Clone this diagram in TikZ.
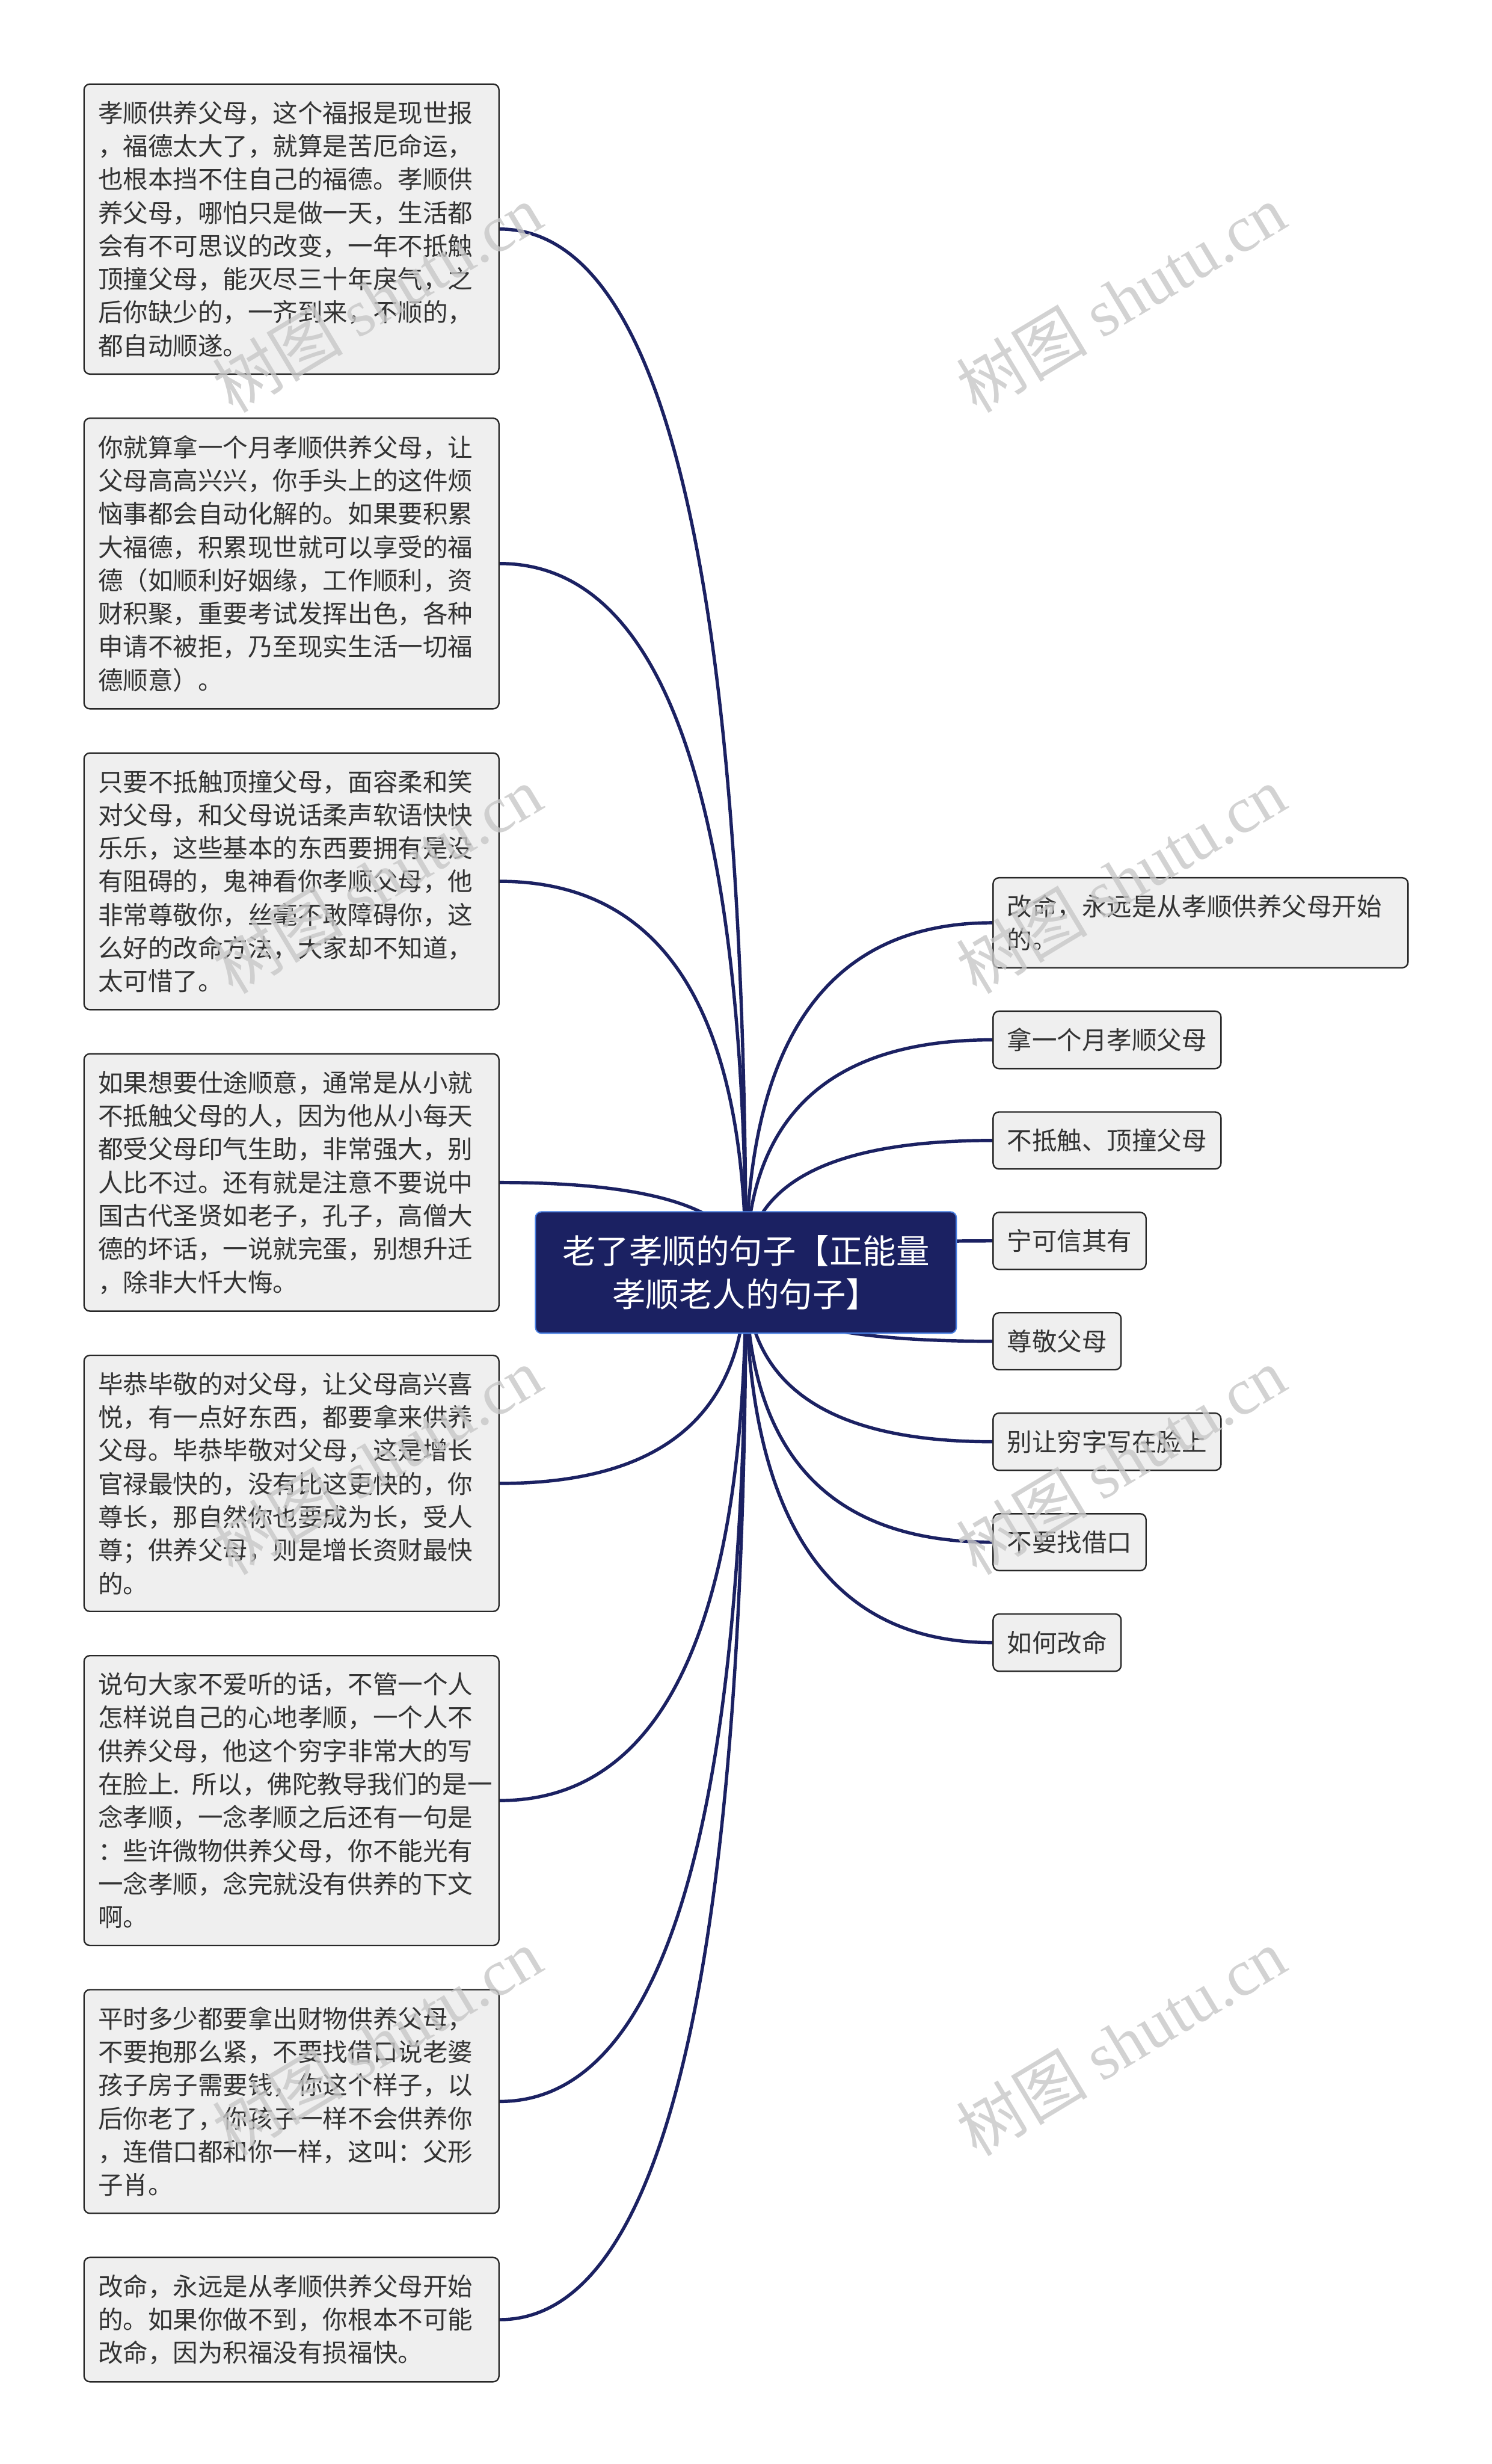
\documentclass[tikz,border=0pt]{standalone}
\usepackage{fontspec}
\setmainfont{Noto Sans CJK SC}
\newfontfamily\wmlatin{Liberation Serif}
\usetikzlibrary{positioning,calc,backgrounds}

\definecolor{navy}{RGB}{27,33,98}
\definecolor{rootedge}{RGB}{70,125,225}
\definecolor{boxfill}{RGB}{239,239,239}
\definecolor{boxedge}{RGB}{40,40,40}
\definecolor{boxtext}{RGB}{51,51,51}

\begin{document}
\begin{tikzpicture}[
  txt/.style={draw=boxedge, line width=0.7pt, fill=boxfill, rounded corners=0.1cm, text=boxtext,
              font=\fontsize{12.2pt}{16.24pt}\selectfont, inner xsep=0.24cm, inner ysep=0.29cm, align=left},
  para/.style={txt, text width=6.64cm},
  rootbox/.style={draw=rootedge, line width=0.6pt, fill=navy, rounded corners=0.1cm, text=white,
              font=\fontsize{16.3pt}{21.3pt}\selectfont, inner xsep=0.46cm, inner ysep=0.4cm, align=center},
  link/.style={draw=navy, line width=1.6pt},
  wmark/.style={text=black!22, text opacity=0.8, rotate=31, font=\fontsize{32pt}{32pt}\selectfont}]
  \useasboundingbox (0,0) rectangle (25.6,-42.27);

  % centre
  \node[rootbox] (root) at (12.80,-21.83) {老了孝顺的句子【正能量\\孝顺老人的句子】};

  % left column
  \node[para, anchor=north west] (l1) at (1.43,-1.43) {孝顺供养父母，这个福报是现世报\\，福德太大了，就算是苦厄命运，\\也根本挡不住自己的福德。孝顺供\\养父母，哪怕只是做一天，生活都\\会有不可思议的改变，一年不抵触\\顶撞父母，能灭尽三十年戾气，之\\后你缺少的，一齐到来，不顺的，\\都自动顺遂。};
  \node[para, below=0.733cm of l1] (l2) {你就算拿一个月孝顺供养父母，让\\父母高高兴兴，你手头上的这件烦\\恼事都会自动化解的。如果要积累\\大福德，积累现世就可以享受的福\\德（如顺利好姻缘，工作顺利，资\\财积聚，重要考试发挥出色，各种\\申请不被拒，乃至现实生活一切福\\德顺意）。};
  \node[para, below=0.733cm of l2] (l3) {只要不抵触顶撞父母，面容柔和笑\\对父母，和父母说话柔声软语快快\\乐乐，这些基本的东西要拥有是没\\有阻碍的，鬼神看你孝顺父母，他\\非常尊敬你，丝毫不敢障碍你，这\\么好的改命方法，大家却不知道，\\太可惜了。};
  \node[para, below=0.733cm of l3] (l4) {如果想要仕途顺意，通常是从小就\\不抵触父母的人，因为他从小每天\\都受父母印气生助，非常强大，别\\人比不过。还有就是注意不要说中\\国古代圣贤如老子，孔子，高僧大\\德的坏话，一说就完蛋，别想升迁\\，除非大忏大悔。};
  \node[para, below=0.733cm of l4] (l5) {毕恭毕敬的对父母，让父母高兴喜\\悦，有一点好东西，都要拿来供养\\父母。毕恭毕敬对父母，这是增长\\官禄最快的，没有比这更快的，你\\尊长，那自然你也要成为长，受人\\尊；供养父母，则是增长资财最快\\的。};
  \node[para, below=0.733cm of l5] (l6) {说句大家不爱听的话，不管一个人\\怎样说自己的心地孝顺，一个人不\\供养父母，他这个穷字非常大的写\\\mbox{在脸上. 所以，佛陀教导我们的是一}\\念孝顺，一念孝顺之后还有一句是\\：些许微物供养父母，你不能光有\\一念孝顺，念完就没有供养的下文\\啊。};
  \node[para, below=0.733cm of l6] (l7) {平时多少都要拿出财物供养父母，\\不要抱那么紧，不要找借口说老婆\\孩子房子需要钱，你这个样子，以\\后你老了，你孩子一样不会供养你\\，连借口都和你一样，这叫：父形\\子肖。};
  \node[para, below=0.733cm of l7] (l8) {改命，永远是从孝顺供养父母开始\\的。如果你做不到，你根本不可能\\改命，因为积福没有损福快。};

  % right column
  \node[para, anchor=west] (r1) at (17.03,-15.83) {改命，永远是从孝顺供养父母开始\\的。};
  \node[txt, below=0.72cm of r1.south west, anchor=north west] (r2) {拿一个月孝顺父母};
  \node[txt, below=0.72cm of r2.south west, anchor=north west] (r3) {不抵触、顶撞父母};
  \node[txt, below=0.72cm of r3.south west, anchor=north west] (r4) {宁可信其有};
  \node[txt, below=0.72cm of r4.south west, anchor=north west] (r5) {尊敬父母};
  \node[txt, below=0.72cm of r5.south west, anchor=north west] (r6) {别让穷字写在脸上};
  \node[txt, below=0.72cm of r6.south west, anchor=north west] (r7) {不要找借口};
  \node[txt, below=0.72cm of r7.south west, anchor=north west] (r8) {如何改命};

  \begin{scope}[on background layer]
    \fill[white] (0,0) rectangle (25.6,-42.27);
    \foreach \n in {l1,l2,l3,l4,l5,l6,l7,l8}
      \draw[link] (root.center) .. controls ($(root.center)!2/3!(root.center |- \n.east)$)
        and ($(\n.east)!2/3!(root.center |- \n.east)$) .. (\n.east);
    \foreach \n in {r1,r2,r3,r4,r5,r6,r7,r8}
      \draw[link] (root.center) .. controls ($(root.center)!2/3!(root.center |- \n.west)$)
        and ($(\n.west)!2/3!(root.center |- \n.west)$) .. (\n.west);
  \end{scope}

  % watermark
  \foreach \y [count=\i] in {5.12,15.09,25.06,35.03}
    \foreach \x [count=\j] in {6.47,19.24}
      \node[wmark] (wm\i\j) at (\x,-\y) {树图 {\wmlatin shutu.cn}};
\end{tikzpicture}
\end{document}
